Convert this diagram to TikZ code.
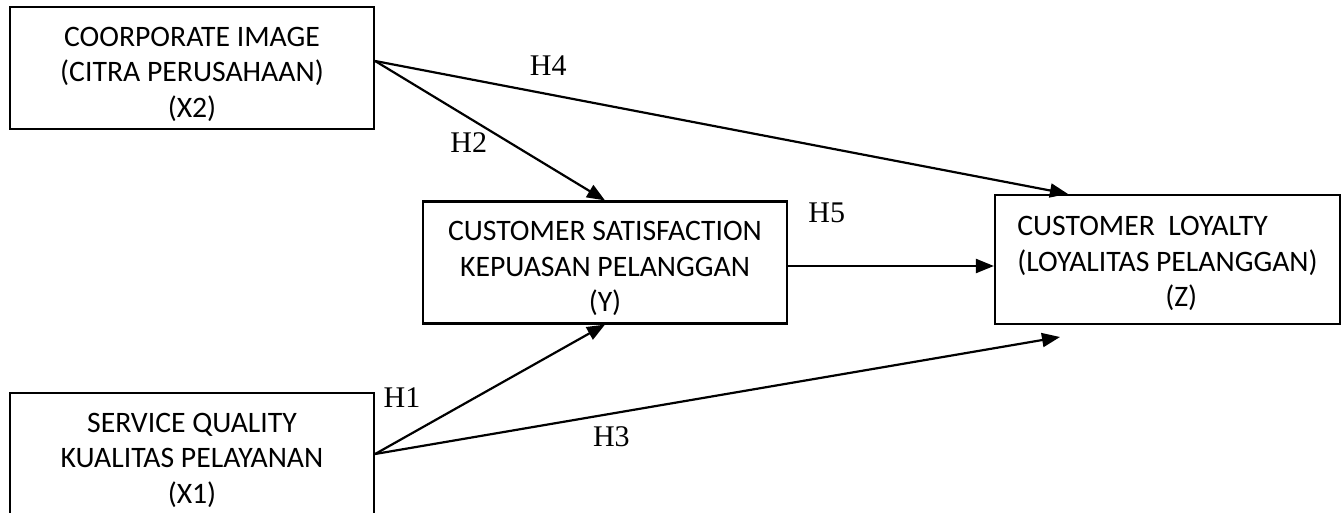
\documentclass[tikz,border=0pt]{standalone}
\usepackage{fontspec}
\setmainfont{Liberation Serif}
\newfontfamily\calibri{Carlito}
\usetikzlibrary{arrows.meta,calc}
\newcommand{\firstline}[1][32pt]{\rule{0pt}{#1}}
\tikzset{
    var/.style =    {rectangle,
                    fill=white,
                    draw=black,
                    text=black,
                    line width=2.2pt,
                    align=center,
                    font=\calibri\fontsize{29.7}{35.5}\selectfont,
                    minimum width=364pt,
                    minimum height=122pt},
    hyp/.style =    {text=black,
                    inner sep=3.33pt,
                    font=\fontsize{30}{36}\selectfont},
    -,
    >={Triangle[length=18pt,width=14pt]},
    draw=black}

\begin{document}
\begin{tikzpicture}[x=1pt,y=-1pt]
                \useasboundingbox (0,0) rectangle (1344,513);
                \node[var]  (X2) at (192,68)    {\firstline COORPORATE IMAGE\\(CITRA PERUSAHAAN)\\(X2)};
                \node[var]  (X1) at (192,454)   {\firstline SERVICE QUALITY\\KUALITAS PELAYANAN\\(X1)};
                \node[var]  (Y)  at (605,262.5) {\firstline CUSTOMER SATISFACTION\\KEPUASAN PELANGGAN\\(Y)};
                \node[var,align=left,minimum width=345pt,minimum height=129pt]
                            (Z)  at (1167.5,259.5) {\firstline[28pt]CUSTOMER\ \ LOYALTY\\(LOYALITAS PELANGGAN)\\\hspace*{148pt}(Z)};
                \coordinate (h5start) at ([yshift=-3.5pt]Y.east);
                \coordinate (h3end)   at (1060,337);
                \path [line width=2.2pt,->]
                        ([yshift=7pt]X2.east) edge node [hyp,pos=0.407,below=10pt] (h2) {H2} (Y.north)
                                              edge node [hyp,pos=0.25,above=14pt] (h4) {H4} ([xshift=74pt]Z.north west)
                        (X1.east)             edge node [hyp,pos=0.117,above=27pt] (h1) {H1} (Y.south)
                                              edge node [hyp,pos=0.345,below=8.5pt] (h3) {H3} (h3end)
                        (h5start)             edge node [hyp,pos=0.1875,above=38.5pt] (h5) {H5} (h5start -| Z.west);
        \end{tikzpicture}
\end{document}
